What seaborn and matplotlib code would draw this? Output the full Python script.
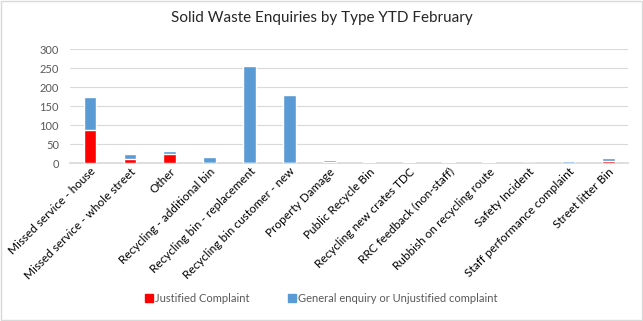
import matplotlib
matplotlib.use("Agg")
import matplotlib.pyplot as plt
import seaborn as sns
import pandas as pd
from matplotlib.patches import Rectangle, Patch

categories = ["Missed service - house", "Missed service - whole street", "Other",
              "Recycling - additional bin", "Recycling bin - replacement",
              "Recycling bin customer - new", "Property Damage", "Public Recycle Bin",
              "Recycling new crates TDC", "RRC feedback (non-staff)",
              "Rubbish on recycling route", "Safety Incident",
              "Staff performance complaint", "Street litter Bin"]
justified = [88, 12, 23, 0, 0, 0, 4, 2, 0, 2, 1, 0, 1, 6]
general = [85, 13, 10, 16, 256, 178, 3, 0, 3, 0, 1, 1, 4, 7]
yticks = [0, 50, 100, 150, 200, 250, 300]

sns.set_theme(style="white")
plt.rcParams['font.family'] = ['Lato', 'DejaVu Sans']

df = pd.DataFrame({"cat": categories, "just": justified,
                   "total": [j + g for j, g in zip(justified, general)]})

fig = plt.figure(figsize=(6.43, 3.21), dpi=100)
ax = fig.add_axes([0.109, 0.492, 0.868, 0.355])

sns.barplot(data=df, x="cat", y="total", color="#5B9BD5", saturation=1,
            width=0.32, ax=ax, zorder=3)
sns.barplot(data=df, x="cat", y="just", color="#FF0000", saturation=1,
            width=0.32, ax=ax, zorder=4)

ax.set_ylim(0, 300)
ax.set_yticks(yticks)
ax.set_xlim(-0.5, len(categories) - 0.5)
ax.grid(axis="y", color="#D9D9D9", linewidth=0.8, zorder=0)
ax.set_axisbelow(True)
for s in ["left", "right", "top"]:
    ax.spines[s].set_visible(False)
ax.spines["bottom"].set_color("#D9D9D9")
ax.spines["bottom"].set_zorder(1)
ax.set_xlabel("")
ax.set_ylabel("")
ax.tick_params(axis="y", labelsize=8, colors="#595959", length=0, pad=8)
ax.tick_params(axis="x", labelsize=8.5, colors="#000000", length=0, pad=2)
plt.setp(ax.get_xticklabels(), rotation=45, ha="right", rotation_mode="anchor")

fig.suptitle("Solid Waste Enquiries by Type YTD February", y=0.965,
             fontsize=11, color="#262626")

handles = [Patch(color="#FF0000", label="Justified Complaint"),
           Patch(color="#5B9BD5", label="General enquiry or Unjustified complaint")]
fig.legend(handles=handles, loc="center", bbox_to_anchor=(0.5, 0.07), ncol=2,
           frameon=False, fontsize=8, handlelength=0.7, handleheight=0.7,
           handletextpad=0.2, columnspacing=3.5, labelcolor="#595959")

fig.patches.append(Rectangle((0.001, 0.002), 0.997, 0.995, transform=fig.transFigure,
                             fill=False, edgecolor="#D9D9D9", linewidth=1))

fig.savefig("out.png", dpi=100)
